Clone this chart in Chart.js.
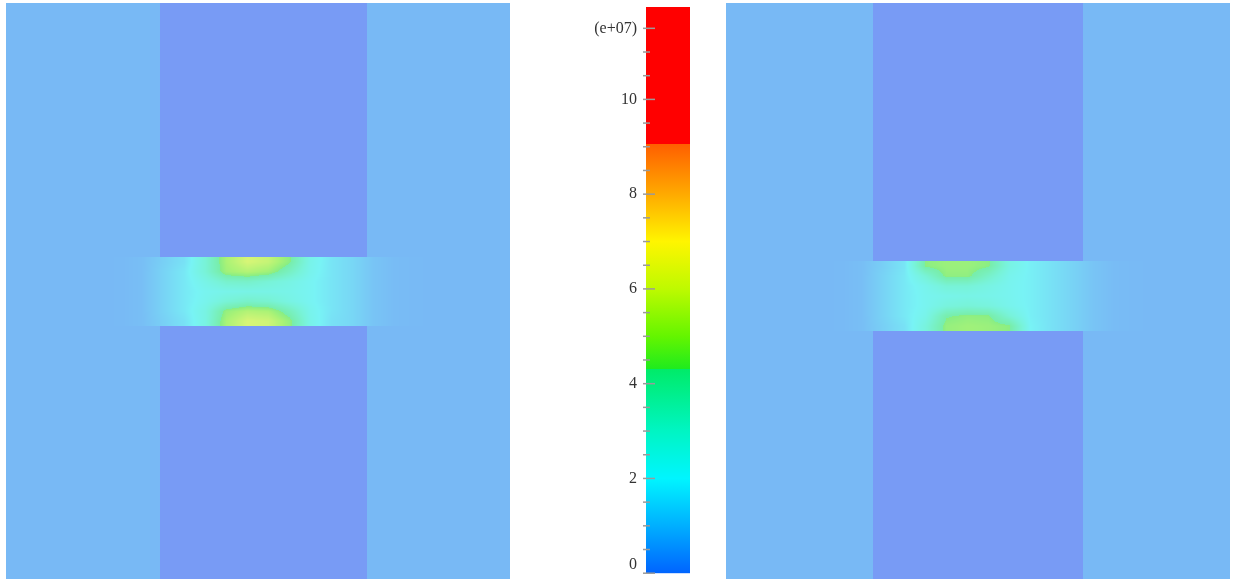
<!DOCTYPE html>
<html><head><meta charset="utf-8">
<script src="https://cdn.jsdelivr.net/npm/chart.js@4.4.1/dist/chart.umd.min.js"></script>
<style>
html,body{margin:0;padding:0;background:#fff;width:1233px;height:579px;overflow:hidden}
.box{position:absolute}
</style></head><body>
<div class="box" style="left:6px;top:3px;width:504px;height:576px"><canvas id="cl"></canvas></div>
<div class="box" style="left:560px;top:-20px;width:130px;height:619px"><canvas id="cc"></canvas></div>
<div class="box" style="left:726px;top:3px;width:504px;height:576px"><canvas id="cr"></canvas></div>
<script>
// ---------- colour scale (values in units of 1e+07) ----------
const CB_MIN = 0, CB_MAX = 11.95;
const CB_STOP_VALUES = [0, 1, 2, 3, 4.3, 4.3, 5, 6, 7, 8, 9.05, 9.05, 11.95];
const CB_STOP_COLORS = [[0,100,255],[0,175,255],[0,245,255],[0,245,195],[0,235,105],[30,235,30],[100,245,0],[190,250,0],[255,245,0],[255,170,0],[255,95,0],[255,0,0],[255,0,0]];
const CB_TICKS = [0,0.5,1,1.5,2,2.5,3,3.5,4,4.5,5,5.5,6,6.5,7,7.5,8,8.5,9,9.5,10,10.5,11,11.5];
const CB_LABEL_VALUES = [0, 2, 4, 6, 8, 10, 11.5];
const CB_LABEL_TEXT = ['0', '2', '4', '6', '8', '10', '(e+07)'];

// ---------- panel geometry (data units) ----------
const PANEL_X = [0, 504];
const PANEL_Y = [0, 576];
const GRID_X = [0, 504];           // field grid spans full width, 24 columns
const LEFT_GAP_Y = [254, 323];     // field grid rows span the gap, 7 rows
const RIGHT_GAP_Y = [258, 328];
const LEFT_ELECTRODES = [[154, 361, 0, 254], [154, 361, 323, 576]];
const RIGHT_ELECTRODES = [[147, 357, 0, 258], [147, 357, 328, 576]];
const BACKGROUND_VALUE = 0.4;

// ---------- field values in the gap (rows top->bottom, 24 columns left->right) ----------
const LEFT_FIELD = [
  [0.4,0.4,0.4,0.4,0.4,0.42,0.55,1.0,1.5,3.0,5.0,6.0,5.6,4.4,2.4,1.6,1.2,0.7,0.48,0.42,0.4,0.4,0.4,0.4],
  [0.4,0.4,0.4,0.4,0.4,0.42,0.55,1.1,1.7,3.0,4.8,5.2,4.8,3.6,2.3,1.6,1.2,0.7,0.48,0.42,0.4,0.4,0.4,0.4],
  [0.4,0.4,0.4,0.4,0.4,0.42,0.55,1.1,1.7,2.5,3.3,3.4,3.0,2.6,2.1,1.6,1.2,0.7,0.48,0.42,0.4,0.4,0.4,0.4],
  [0.4,0.4,0.4,0.4,0.4,0.42,0.55,1.1,1.7,2.2,2.4,2.5,2.5,2.4,2.1,1.6,1.2,0.7,0.48,0.42,0.4,0.4,0.4,0.4],
  [0.4,0.4,0.4,0.4,0.4,0.42,0.55,1.1,1.7,2.3,3.0,3.4,3.2,2.6,2.1,1.6,1.2,0.7,0.48,0.42,0.4,0.4,0.4,0.4],
  [0.4,0.4,0.4,0.4,0.4,0.42,0.55,1.1,1.7,2.6,4.6,5.2,5.0,3.8,2.3,1.6,1.2,0.7,0.48,0.42,0.4,0.4,0.4,0.4],
  [0.4,0.4,0.4,0.4,0.4,0.42,0.55,1.0,1.5,2.6,5.0,6.0,5.8,4.6,2.4,1.5,1.2,0.7,0.48,0.42,0.4,0.4,0.4,0.4]
];
const RIGHT_FIELD = [
  [0.4,0.4,0.4,0.4,0.4,0.42,0.55,1.0,1.6,4.4,4.7,4.7,4.4,2.6,1.9,1.5,1.1,0.7,0.48,0.42,0.4,0.4,0.4,0.4],
  [0.4,0.4,0.4,0.4,0.4,0.42,0.55,1.1,1.7,3.0,4.5,4.5,3.4,2.3,1.9,1.5,1.1,0.7,0.48,0.42,0.4,0.4,0.4,0.4],
  [0.4,0.4,0.4,0.4,0.4,0.42,0.55,1.1,1.7,2.3,3.0,3.0,2.6,2.2,1.9,1.5,1.1,0.7,0.48,0.42,0.4,0.4,0.4,0.4],
  [0.4,0.4,0.4,0.4,0.4,0.42,0.55,1.1,1.7,2.2,2.4,2.5,2.4,2.2,1.9,1.5,1.1,0.7,0.48,0.42,0.4,0.4,0.4,0.4],
  [0.4,0.4,0.4,0.4,0.4,0.42,0.55,1.1,1.7,2.2,2.8,3.0,2.8,2.3,1.9,1.5,1.1,0.7,0.48,0.42,0.4,0.4,0.4,0.4],
  [0.4,0.4,0.4,0.4,0.4,0.42,0.55,1.1,1.7,2.4,4.2,4.5,4.4,3.0,1.9,1.5,1.1,0.7,0.48,0.42,0.4,0.4,0.4,0.4],
  [0.4,0.4,0.4,0.4,0.4,0.42,0.55,1.0,1.5,2.8,4.6,4.8,4.7,4.4,2.0,1.5,1.1,0.7,0.48,0.42,0.4,0.4,0.4,0.4]
];

// ---------- styles ----------
const SHADE_BASE = [240, 240, 235];
const SHADE_ALPHA = 0.5;
const ELECTRODE_COLOR = '#789bf5';

function cmap(v) {
  v = Math.max(CB_MIN, Math.min(CB_MAX, v));
  for (let i = 0; i < CB_STOP_VALUES.length - 1; i++) {
    const a = CB_STOP_VALUES[i], b = CB_STOP_VALUES[i + 1];
    if (b > a && v >= a && v <= b) {
      const t = (v - a) / (b - a), c0 = CB_STOP_COLORS[i], c1 = CB_STOP_COLORS[i + 1];
      return [0,1,2].map(k => c0[k] + (c1[k] - c0[k]) * t);
    }
  }
  return CB_STOP_COLORS[CB_STOP_COLORS.length - 1];
}
function shade(v) {
  const c = cmap(v);
  return [0,1,2].map(k => Math.round(SHADE_ALPHA * c[k] + (1 - SHADE_ALPHA) * SHADE_BASE[k]));
}
const rgb = c => `rgb(${c[0]},${c[1]},${c[2]})`;

const fieldPlugin = {
  id: 'field',
  beforeDatasetsDraw(chart) {
    const cfg = chart.options.plugins.field;
    const ctx = chart.ctx, xs = chart.scales.x, ys = chart.scales.y, ca = chart.chartArea;
    ctx.save();
    ctx.beginPath(); ctx.rect(ca.left, ca.top, ca.width, ca.height); ctx.clip();
    ctx.fillStyle = rgb(shade(BACKGROUND_VALUE));
    ctx.fillRect(ca.left, ca.top, ca.width, ca.height);
    const grid = cfg.grid, nr = grid.length, nc = grid[0].length;
    const gx0 = GRID_X[0], gx1 = GRID_X[1], gy0 = cfg.gapY[0], gy1 = cfg.gapY[1];
    const cw = (gx1 - gx0) / nc, chh = (gy1 - gy0) / nr;
    const px0 = Math.floor(xs.getPixelForValue(gx0)), px1 = Math.ceil(xs.getPixelForValue(gx1));
    const py0 = Math.floor(ys.getPixelForValue(gy0)), py1 = Math.ceil(ys.getPixelForValue(gy1));
    const w = px1 - px0, h = py1 - py0;
    const off = document.createElement('canvas'); off.width = w; off.height = h;
    const octx = off.getContext('2d'); const img = octx.createImageData(w, h);
    for (let j = 0; j < h; j++) {
      const yv = ys.getValueForPixel(py0 + j + 0.5);
      let fy = (yv - gy0) / chh - 0.5; fy = Math.max(0, Math.min(nr - 1, fy));
      const r0 = Math.floor(fy), r1 = Math.min(nr - 1, r0 + 1), ty = fy - r0;
      for (let i = 0; i < w; i++) {
        const xv = xs.getValueForPixel(px0 + i + 0.5);
        let fx = (xv - gx0) / cw - 0.5; fx = Math.max(0, Math.min(nc - 1, fx));
        const c0 = Math.floor(fx), c1 = Math.min(nc - 1, c0 + 1), tx = fx - c0;
        const v = (grid[r0][c0] * (1 - tx) + grid[r0][c1] * tx) * (1 - ty) +
                  (grid[r1][c0] * (1 - tx) + grid[r1][c1] * tx) * ty;
        const c = shade(v), p = (j * w + i) * 4;
        img.data[p] = c[0]; img.data[p + 1] = c[1]; img.data[p + 2] = c[2]; img.data[p + 3] = 255;
      }
    }
    octx.putImageData(img, 0, 0);
    ctx.drawImage(off, px0, py0);
    ctx.fillStyle = ELECTRODE_COLOR;
    for (const e of cfg.electrodes) {
      const x0 = xs.getPixelForValue(e[0]), x1 = xs.getPixelForValue(e[1]);
      const y0 = ys.getPixelForValue(e[2]), y1 = ys.getPixelForValue(e[3]);
      ctx.fillRect(x0, y0, x1 - x0, y1 - y0);
    }
    ctx.restore();
  }
};

function panelChart(id, grid, gapY, electrodes) {
  return new Chart(document.getElementById(id), {
    type: 'scatter',
    data: { datasets: [] },
    options: {
      responsive: true, maintainAspectRatio: false, animation: false,
      layout: { padding: 0 },
      scales: {
        x: { type: 'linear', min: PANEL_X[0], max: PANEL_X[1], display: false },
        y: { type: 'linear', min: PANEL_Y[0], max: PANEL_Y[1], reverse: true, display: false }
      },
      plugins: { legend: { display: false }, tooltip: { enabled: false },
                 field: { grid, gapY, electrodes } }
    },
    plugins: [fieldPlugin]
  });
}
panelChart('cl', LEFT_FIELD, LEFT_GAP_Y, LEFT_ELECTRODES);
panelChart('cr', RIGHT_FIELD, RIGHT_GAP_Y, RIGHT_ELECTRODES);

const colorbarPlugin = {
  id: 'colorbar',
  afterDraw(chart) {
    const ctx = chart.ctx, ys = chart.scales.y, ca = chart.chartArea;
    const yb = ys.getPixelForValue(CB_MIN), yt = ys.getPixelForValue(CB_MAX);
    const g = ctx.createLinearGradient(0, yb, 0, yt);
    CB_STOP_VALUES.forEach((v, i) => g.addColorStop((v - CB_MIN) / (CB_MAX - CB_MIN), rgb(CB_STOP_COLORS[i])));
    ctx.save();
    ctx.fillStyle = g;
    ctx.fillRect(ca.left, yt, ca.right - ca.left, yb - yt);
    ctx.strokeStyle = '#9a9a9a'; ctx.lineWidth = 1.5;
    for (const v of CB_TICKS) {
      const y = ys.getPixelForValue(v);
      const major = CB_LABEL_VALUES.includes(v);
      ctx.beginPath(); ctx.moveTo(ca.left - 3, y); ctx.lineTo(ca.left + (major ? 9 : 4), y); ctx.stroke();
    }
    ctx.restore();
  }
};

new Chart(document.getElementById('cc'), {
  type: 'scatter',
  data: { datasets: [] },
  options: {
    responsive: true, maintainAspectRatio: false, animation: false,
    layout: { padding: { top: 27, bottom: 24.5, left: 0, right: 0 } },
    scales: {
      x: { type: 'linear', min: 0, max: 1, display: false },
      y: {
        type: 'linear', position: 'left', min: CB_MIN, max: CB_MAX,
        grid: { display: false, drawTicks: false },
        border: { display: false },
        afterBuildTicks: s => { s.ticks = CB_TICKS.map(v => ({ value: v })); },
        afterFit: s => { s.width = 86; },
        ticks: {
          autoSkip: false, padding: 9, color: '#333',
          font: { family: 'Liberation Serif', size: 16, lineHeight: 1.05 },
          callback: v => {
            const i = CB_LABEL_VALUES.indexOf(v);
            if (i < 0) return '';
            // lowest label sits just above its tick, as in the reference
            return v === CB_MIN ? [CB_LABEL_TEXT[i], ''] : CB_LABEL_TEXT[i];
          }
        }
      }
    },
    plugins: { legend: { display: false }, tooltip: { enabled: false } }
  },
  plugins: [colorbarPlugin]
});
</script>
</body></html>
